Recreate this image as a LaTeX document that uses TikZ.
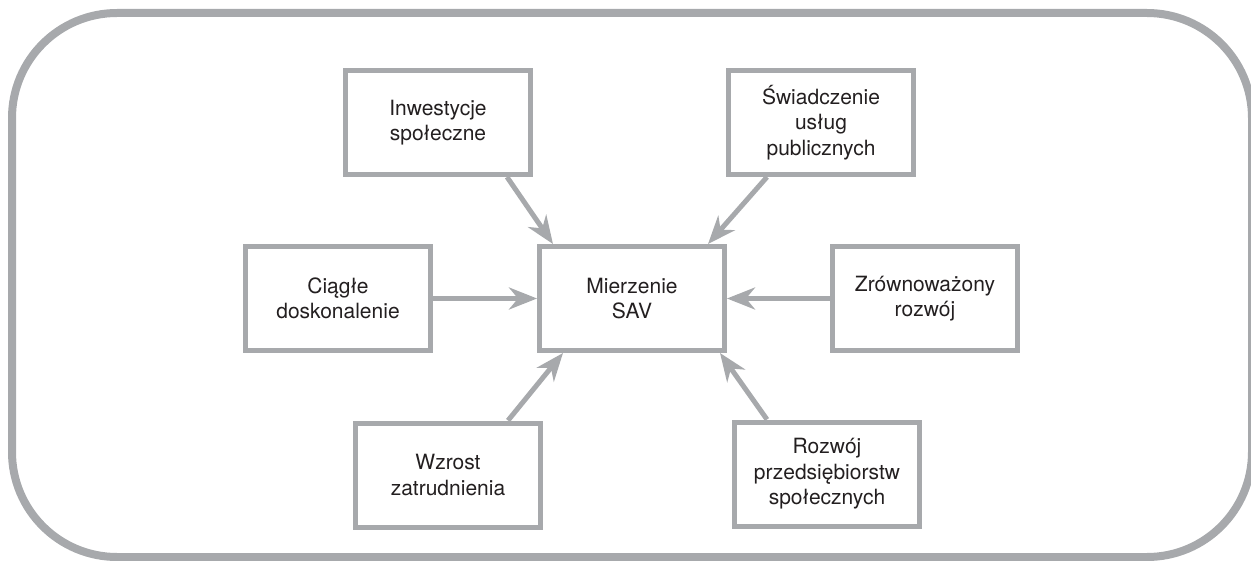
\documentclass[tikz,border=0pt]{standalone}
\usepackage{fontspec}
\setmainfont{TeX Gyre Heros}
\usetikzlibrary{arrows.meta}
\definecolor{framegray}{HTML}{A7A9AC}
\definecolor{inkdark}{HTML}{231F20}
\begin{document}
\begin{tikzpicture}[x=1pt,y=-1pt,
  factor/.style={draw=framegray, line width=5pt, minimum width=185pt,
    minimum height=104pt, inner sep=0pt, align=center, text=inkdark,
    font=\fontsize{21}{25.5}\selectfont},
  feed/.style={draw=framegray, line width=5pt,
    -{Stealth[length=28pt,width=22pt,inset=9pt]}}]
\useasboundingbox (0,0) rectangle (1251,561);
% outer rounded frame
\draw[framegray, line width=8pt, rounded corners=105pt] (12,13) rectangle (1252,557);
% boxes
\node[factor] (inv) at (438,122.5) {Inwestycje\\społeczne};
\node[factor] (swi) at (821,122.5) {Świadczenie\\usług\\publicznych};
\node[factor] (cia) at (338,298.5) {Ciągłe\\doskonalenie};
\node[factor] (mie) at (632,298.5) {Mierzenie\\SAV};
\node[factor] (zro) at (925,298.5) {Zrównoważony\\rozwój};
\node[factor] (wzr) at (448,475) {Wzrost\\zatrudnienia};
\node[factor] (roz) at (827,474) {Rozwój\\przedsiębiorstw\\społecznych};
% connectors into the central box
\draw[feed] ([xshift=69pt]inv.south) -- ([xshift=-79pt]mie.north);
\draw[feed] ([xshift=-54pt]swi.south) -- ([xshift=76pt]mie.north);
\draw[feed] (cia.east) -- (mie.west);
\draw[feed] (zro.west) -- (mie.east);
\draw[feed] ([xshift=60pt]wzr.north) -- ([xshift=-69pt]mie.south);
\draw[feed] ([xshift=-60pt]roz.north) -- ([xshift=88pt]mie.south);
\end{tikzpicture}
\end{document}
